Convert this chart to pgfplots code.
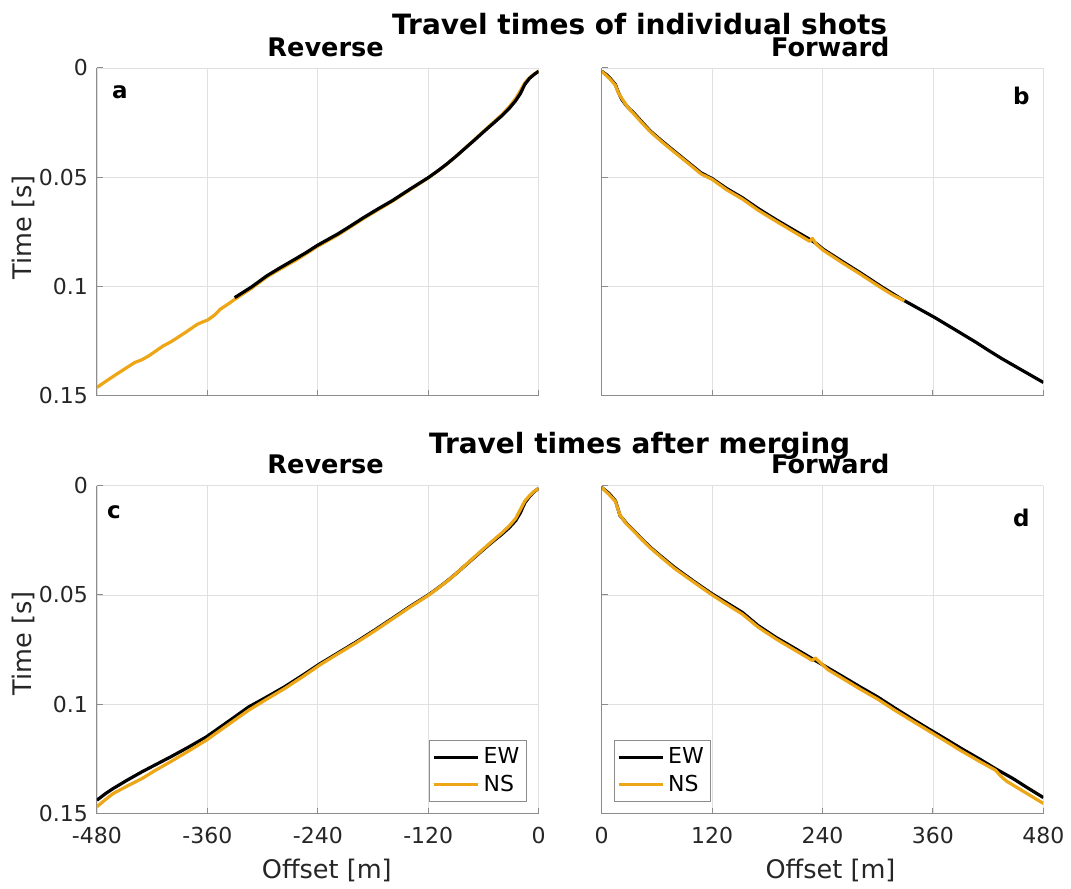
\documentclass[border=0pt]{standalone}
\usepackage{fontspec}
\setmainfont{DejaVu Sans}
\usepackage{pgfplots}
\pgfplotsset{compat=1.18}
\definecolor{nsorange}{RGB}{236,166,22}
\definecolor{ticklab}{RGB}{38,38,38}
\pgfplotsset{
  panel/.style={
    scale only axis, width=221pt, height=164pt,
    anchor=south west,
    ymin=0, ymax=0.15, y dir=reverse,
    enlargelimits=false,
    axis x line*=bottom, axis y line*=left,
    axis line style={black!45, line width=0.5pt, -},
    tick align=inside, major tick length=3pt,
    tick style={black!45, line width=0.5pt},
    grid=major, grid style={black!12, line width=0.4pt},
    ytick={0,0.05,0.1,0.15},
    tick label style={font=\fontsize{11}{13}\selectfont, text=ticklab},
    xticklabel style={yshift=-3.5pt},
    yticklabel style={xshift=-1pt},
    every axis plot/.append style={line width=1.6pt, line join=round},
    legend image code/.code={\draw[#1] (0pt,0pt) -- (22pt,0pt);},
  },
  rev/.style={xmin=-480, xmax=0, xtick={-480,-360,-240,-120,0}},
  fwd/.style={xmin=0, xmax=480, xtick={0,120,240,360,480}},
}
\begin{document}
\begin{tikzpicture}
\path (0,0) rectangle (535.5pt,442pt);

% ---------- panel a ----------
\begin{axis}[panel, rev, at={(48.5pt,244pt)},
  xticklabels={}, yticklabels={0,0.05,0.1,0.15}]
\addplot[nsorange] coordinates {
(-480,0.1462) (-469,0.1430) (-458.6,0.1401) (-449,0.1375) (-439,0.1348) (-431,0.1335) (-423.5,0.1317)
(-416,0.1295) (-408,0.1272) (-400,0.1254) (-392.5,0.1234) (-382,0.1205) (-371,0.1173) (-365,0.1162)
(-359.5,0.1153) (-352,0.1130) (-346,0.1104) (-338,0.1082) (-330,0.1058) (-312,0.1008) (-295,0.0955)
(-280,0.0918) (-264,0.0880) (-252,0.0848) (-241,0.0818) (-230,0.0792) (-218,0.0764) (-204,0.0726)
(-190,0.0688) (-175,0.0650) (-159,0.0610) (-140,0.0558) (-120,0.0503) (-110,0.0473) (-100,0.0441)
(-90,0.0405) (-80,0.0367) (-70,0.0329) (-60,0.0290) (-50,0.0252) (-40,0.0214) (-32,0.0178)
(-25,0.0140) (-20,0.0105) (-15,0.0068) (-10,0.0045) (-5,0.0028) (0,0.0015)};
\addplot[black] coordinates {
(-330.3,0.1051) (-312,0.1002) (-295,0.0950) (-280,0.0912) (-264,0.0873) (-252,0.0843) (-241,0.0813)
(-230,0.0787) (-218,0.0759) (-204,0.0722) (-190,0.0684) (-175,0.0646) (-159,0.0607) (-140,0.0555)
(-120,0.0502) (-110,0.0472) (-100,0.0440) (-90,0.0405) (-80,0.0368) (-70,0.0331) (-60,0.0293)
(-50,0.0256) (-40,0.0219) (-32,0.0185) (-25,0.0150) (-20,0.0118) (-15,0.0075) (-10,0.0048)
(-5,0.0030) (0,0.0015)};
\end{axis}

% ---------- panel b ----------
\begin{axis}[panel, fwd, at={(301pt,244pt)},
  xticklabels={}, yticklabels={}]
\addplot[black] coordinates {
(0,0.0015) (5,0.0030) (9,0.0046) (15,0.0076) (18,0.0110) (22,0.0145) (28,0.0178) (35,0.0206)
(44,0.0248) (53,0.0289) (66,0.0336) (79,0.0381) (94,0.0432) (108,0.0480) (120,0.0506)
(136,0.0552) (153,0.0594) (170,0.0643) (189,0.0693) (208,0.0740) (226,0.0784) (233,0.0803)
(241,0.0830) (261,0.0884) (281,0.0937) (303,0.0998) (326,0.1058) (344,0.1100) (362,0.1142)
(385,0.1200) (407,0.1256) (421,0.1294) (436,0.1333) (458,0.1386) (480,0.1439)};
\addplot[nsorange] coordinates {
(0,0.0015) (5,0.0034) (9,0.0050) (15,0.0080) (18,0.0112) (22,0.0140) (28,0.0178) (35,0.0210)
(44,0.0252) (53,0.0292) (66,0.0340) (79,0.0385) (94,0.0436) (108,0.0485) (120,0.0510)
(136,0.0558) (153,0.0600) (170,0.0651) (189,0.0700) (208,0.0748) (226,0.0793) (229,0.0780)
(233,0.0806) (241,0.0835) (261,0.0890) (281,0.0943) (303,0.1004) (316,0.1038) (329,0.1066)};
\end{axis}

% ---------- panel c ----------
\begin{axis}[panel, rev, at={(48.5pt,35pt)},
  xticklabels={-480,-360,-240,-120,0}, yticklabels={0,0.05,0.1,0.15},
  legend style={at={(0.973,0.036)}, anchor=south east, draw=black!45, line width=0.5pt,
    font=\fontsize{11}{13}\selectfont, inner sep=1.5pt, legend cell align=left}]
\addplot[black] coordinates {
(-480,0.1439) (-471,0.1410) (-462.5,0.1386) (-447,0.1347) (-431,0.1309) (-416,0.1276) (-400,0.1241)
(-380,0.1195) (-361,0.1149) (-338,0.1081) (-315,0.1012) (-296,0.0968) (-276,0.0920) (-256,0.0866)
(-237,0.0813) (-218,0.0765) (-198,0.0714) (-178,0.0660) (-159,0.0607) (-140,0.0553) (-120,0.0500)
(-110,0.0470) (-100,0.0438) (-90,0.0403) (-80,0.0366) (-70,0.0329) (-60,0.0292) (-50,0.0256)
(-40,0.0222) (-32,0.0192) (-25,0.0160) (-20,0.0125) (-15,0.0078) (-10,0.0050) (-5,0.0028) (0,0.0012)};
\addlegendentry{EW}
\addplot[nsorange] coordinates {
(-480,0.1469) (-471,0.1437) (-462.5,0.1409) (-447,0.1374) (-431,0.1340) (-416,0.1301) (-400,0.1263)
(-380,0.1213) (-361,0.1164) (-338,0.1095) (-315,0.1027) (-296,0.0978) (-276,0.0928) (-256,0.0873)
(-237,0.0818) (-218,0.0769) (-198,0.0718) (-178,0.0664) (-159,0.0610) (-140,0.0556) (-120,0.0502)
(-110,0.0471) (-100,0.0439) (-90,0.0403) (-80,0.0365) (-70,0.0327) (-60,0.0289) (-50,0.0252)
(-40,0.0216) (-32,0.0184) (-25,0.0150) (-20,0.0110) (-15,0.0070) (-10,0.0046) (-5,0.0026) (0,0.0012)};
\addlegendentry{NS}
\end{axis}

% ---------- panel d ----------
\begin{axis}[panel, fwd, at={(301pt,35pt)},
  xticklabels={0,120,240,360,480}, yticklabels={},
  legend style={at={(0.027,0.036)}, anchor=south west, draw=black!45, line width=0.5pt,
    font=\fontsize{11}{13}\selectfont, inner sep=1.5pt, legend cell align=left}]
\addplot[black] coordinates {
(0,0.0008) (8,0.0035) (15,0.0069) (20,0.0137) (27,0.0172) (35,0.0206) (44,0.0245) (53,0.0282)
(66,0.0328) (79,0.0373) (100,0.0437) (120,0.0495) (136,0.0536) (153,0.0580) (170,0.0640)
(189,0.0693) (209,0.0742) (229,0.0792) (246,0.0834) (263,0.0876) (281,0.0921) (300,0.0967)
(318,0.1016) (337,0.1066) (355,0.1112) (373,0.1157) (391,0.1203) (410,0.1249) (428,0.1295)
(447,0.1340) (463,0.1383) (480,0.1427)};
\addlegendentry{EW}
\addplot[nsorange] coordinates {
(0,0.0008) (8,0.0040) (15,0.0072) (20,0.0135) (27,0.0175) (35,0.0208) (44,0.0248) (53,0.0285)
(66,0.0332) (79,0.0378) (100,0.0441) (120,0.0500) (136,0.0543) (153,0.0588) (170,0.0647)
(189,0.0700) (209,0.0750) (229,0.0800) (232,0.0788) (246,0.0842) (263,0.0885) (281,0.0931)
(300,0.0977) (318,0.1026) (337,0.1075) (355,0.1121) (373,0.1167) (391,0.1214) (410,0.1260)
(428,0.1302) (434,0.1330) (440,0.1352) (460,0.1403) (480,0.1454)};
\addlegendentry{NS}
\end{axis}

% ---------- titles and labels ----------
\node[anchor=base, font=\bfseries\fontsize{14}{16}\selectfont] at (320pt,424.5pt) {Travel times of individual shots};
\node[anchor=base, font=\bfseries\fontsize{14}{16}\selectfont] at (320pt,215.3pt) {Travel times after merging};
\node[anchor=base, font=\bfseries\fontsize{12.8}{15}\selectfont] at (162.9pt,413.7pt) {Reverse};
\node[anchor=base, font=\bfseries\fontsize{12.8}{15}\selectfont] at (415.4pt,413.7pt) {Forward};
\node[anchor=base, font=\bfseries\fontsize{12.8}{15}\selectfont] at (162.9pt,205pt) {Reverse};
\node[anchor=base, font=\bfseries\fontsize{12.8}{15}\selectfont] at (415.4pt,205pt) {Forward};
\node[anchor=base, font=\bfseries\fontsize{11.5}{13}\selectfont] at (60pt,392.8pt) {a};
\node[anchor=base, font=\bfseries\fontsize{11.5}{13}\selectfont] at (511pt,389.5pt) {b};
\node[anchor=base, font=\bfseries\fontsize{11.5}{13}\selectfont] at (57pt,182.8pt) {c};
\node[anchor=base, font=\bfseries\fontsize{11.5}{13}\selectfont] at (511pt,178.7pt) {d};
\node[anchor=base, rotate=90, text=ticklab, font=\fontsize{12.8}{15}\selectfont] at (16pt,328.2pt) {Time [s]};
\node[anchor=base, rotate=90, text=ticklab, font=\fontsize{12.8}{15}\selectfont] at (16pt,120pt) {Time [s]};
\node[anchor=base, text=ticklab, font=\fontsize{12.8}{15}\selectfont] at (163.5pt,2.5pt) {Offset [m]};
\node[anchor=base, text=ticklab, font=\fontsize{12.8}{15}\selectfont] at (415.5pt,2.5pt) {Offset [m]};
\end{tikzpicture}
\end{document}
